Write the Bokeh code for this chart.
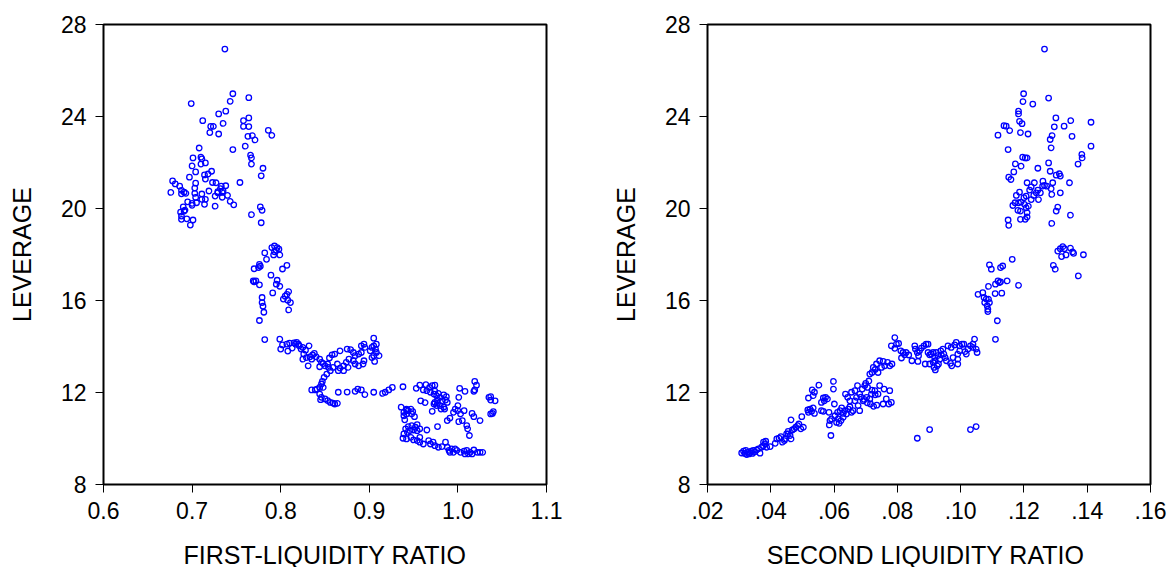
from bokeh.plotting import figure
from bokeh.layouts import row
from bokeh.models import Range1d, FixedTicker
from bokeh.embed import file_html
from bokeh.resources import INLINE

# ---------------- data: (liquidity ratio, leverage) ----------------
first_top = [
    (0.737, 26.93), (0.746, 24.99), (0.764, 24.82), (0.699, 24.56), (0.743, 24.66), (0.738, 24.23), (0.730, 24.11), (0.712, 23.82),
    (0.758, 23.82), (0.758, 23.57), (0.764, 23.94), (0.764, 23.56), (0.735, 23.70), (0.721, 23.57), (0.724, 23.57), (0.720, 23.30),
    (0.730, 23.24), (0.786, 23.40), (0.790, 23.18), (0.763, 23.14), (0.768, 23.17), (0.771, 22.98), (0.760, 22.71), (0.746, 22.56),
    (0.708, 22.63), (0.710, 22.23), (0.701, 22.20), (0.711, 22.16), (0.766, 22.32), (0.767, 22.20), (0.767, 21.93), (0.715, 21.98),
    (0.710, 21.93), (0.700, 21.85), (0.780, 21.75), (0.778, 21.42), (0.704, 21.59), (0.722, 21.62), (0.718, 21.50), (0.714, 21.46),
    (0.715, 21.28), (0.697, 21.36), (0.678, 21.20), (0.681, 21.07), (0.686, 20.97), (0.704, 21.10), (0.703, 20.89), (0.723, 21.13),
    (0.727, 21.12), (0.733, 20.97), (0.738, 20.99), (0.732, 20.86), (0.735, 20.76), (0.729, 20.73), (0.729, 20.68), (0.734, 20.70),
    (0.754, 21.13), (0.676, 20.70), (0.688, 20.79), (0.691, 20.71), (0.693, 20.66), (0.688, 20.64), (0.703, 20.66), (0.711, 20.63),
    (0.719, 20.76), (0.740, 20.57), (0.726, 20.54), (0.704, 20.48), (0.711, 20.40), (0.715, 20.40), (0.734, 20.49), (0.743, 20.31),
    (0.747, 20.16), (0.695, 20.29), (0.700, 20.22), (0.700, 20.14), (0.705, 20.25), (0.714, 20.18), (0.726, 20.10), (0.690, 20.07),
    (0.691, 19.89), (0.687, 19.84), (0.692, 19.93), (0.688, 19.67), (0.777, 20.07), (0.779, 19.92), (0.694, 19.55), (0.701, 19.50),
    (0.688, 19.53), (0.767, 19.73), (0.698, 19.28), (0.778, 19.38),
]
first_mid = [
    (0.793, 18.37), (0.790, 18.30), (0.796, 18.30), (0.795, 18.18), (0.798, 18.23), (0.792, 17.98), (0.793, 18.12), (0.799, 17.98),
    (0.782, 18.07), (0.784, 17.79), (0.776, 17.57), (0.777, 17.49), (0.770, 17.38), (0.775, 17.43), (0.807, 17.53), (0.802, 17.37),
    (0.789, 17.10), (0.769, 16.85), (0.770, 16.81), (0.772, 16.85), (0.776, 16.68), (0.796, 16.88), (0.795, 16.71), (0.799, 16.62),
    (0.791, 16.33), (0.809, 16.39), (0.807, 16.27), (0.805, 16.19), (0.803, 16.06), (0.808, 16.01), (0.811, 15.91), (0.779, 16.13),
    (0.779, 15.91), (0.780, 15.75), (0.809, 15.59), (0.781, 15.49), (0.776, 15.13), (0.782, 14.30),
]
first_band = [
    (0.799, 14.32), (0.802, 14.07), (0.807, 14.10), (0.810, 14.15), (0.815, 14.16), (0.818, 14.18), (0.820, 14.10), (0.800, 13.89),
    (0.808, 13.80), (0.813, 13.93), (0.817, 14.10), (0.821, 14.03), (0.823, 13.89), (0.825, 13.96), (0.828, 13.84), (0.832, 14.03),
    (0.826, 13.67), (0.829, 13.52), (0.833, 13.55), (0.836, 13.63), (0.838, 13.70), (0.840, 13.55), (0.831, 13.16), (0.825, 13.45),
    (0.835, 13.45), (0.844, 13.45), (0.846, 13.31), (0.844, 13.12), (0.848, 13.26), (0.850, 13.16), (0.853, 13.24), (0.855, 13.50),
    (0.858, 13.64), (0.861, 13.67), (0.867, 13.81), (0.854, 13.09), (0.856, 12.95), (0.859, 13.09), (0.864, 13.24), (0.867, 13.06),
    (0.871, 13.16), (0.875, 13.89), (0.879, 13.86), (0.882, 13.74), (0.884, 13.60), (0.888, 13.67), (0.891, 13.74), (0.894, 14.10),
    (0.895, 13.96), (0.891, 14.03), (0.882, 13.38), (0.877, 13.45), (0.884, 13.24), (0.888, 13.16), (0.893, 13.24), (0.894, 13.38),
    (0.903, 13.96), (0.905, 14.03), (0.907, 13.89), (0.908, 13.74), (0.905, 13.60), (0.911, 13.60), (0.905, 14.36), (0.908, 14.10),
    (0.906, 13.35), (0.903, 13.52), (0.901, 13.81), (0.874, 13.31), (0.876, 13.09), (0.871, 12.95), (0.865, 12.95),
]
first_path = [
    (0.852, 12.80), (0.849, 12.66), (0.847, 12.48), (0.846, 12.37), (0.844, 12.22), (0.848, 12.22), (0.841, 12.15), (0.835, 12.11),
    (0.839, 12.11), (0.844, 11.93), (0.846, 11.79), (0.850, 11.72), (0.853, 11.65), (0.856, 11.57), (0.859, 11.54), (0.861, 11.50),
    (0.864, 11.53), (0.845, 11.69), (0.865, 12.01), (0.875, 12.02), (0.884, 12.05), (0.887, 12.15), (0.891, 12.11), (0.895, 11.91),
    (0.905, 12.01), (0.915, 11.96), (0.918, 12.01), (0.922, 12.11), (0.926, 12.22), (0.938, 12.25), (0.936, 11.36), (0.942, 11.28),
]
first_right = [
    (0.953, 12.18), (0.957, 12.32), (0.961, 12.11), (0.964, 12.34), (0.965, 12.08), (0.968, 12.22), (0.971, 12.30), (0.974, 12.32),
    (0.969, 12.01), (0.974, 12.06), (0.973, 11.93), (0.976, 11.86), (0.978, 11.96), (0.980, 11.79), (0.984, 11.90), (0.987, 11.82),
    (0.986, 11.67), (0.982, 11.64), (0.977, 11.67), (0.974, 11.57), (0.973, 11.50), (0.976, 11.43), (0.980, 11.43), (0.984, 11.36),
    (0.988, 11.57), (0.981, 11.28), (1.002, 12.18), (1.008, 12.05), (1.019, 12.48), (1.021, 12.32), (1.019, 12.11), (1.018, 12.05),
    (1.001, 11.79), (1.000, 11.43), (0.971, 11.18), (0.977, 11.53), (0.985, 11.28), (1.035, 11.79), (1.037, 11.67), (1.042, 11.64),
    (1.037, 11.82), (1.039, 11.09), (1.040, 11.17), (1.037, 11.07), (0.939, 11.14), (0.939, 10.99), (0.942, 11.24), (0.944, 11.21),
    (0.947, 11.28), (0.949, 11.17), (0.948, 11.07), (0.942, 11.07), (0.951, 10.95), (0.940, 10.81), (0.958, 11.64), (0.963, 11.56),
    (0.988, 10.78), (0.991, 10.89), (0.995, 11.14), (0.997, 11.28), (1.000, 11.21), (1.003, 11.07), (1.005, 10.78), (1.001, 10.73),
    (1.007, 11.21), (1.010, 10.56), (1.013, 10.13), (1.011, 10.42), (1.016, 11.09), (1.018, 10.95), (1.025, 10.78), (0.977, 10.52),
    (0.965, 10.37),
]
first_low = [
    (0.941, 10.42), (0.944, 10.52), (0.948, 10.56), (0.952, 10.49), (0.954, 10.60), (0.957, 10.42), (0.954, 10.34), (0.950, 10.37),
    (0.946, 10.34), (0.943, 10.27), (0.939, 10.20), (0.938, 10.01), (0.942, 9.98), (0.947, 10.05), (0.950, 9.94), (0.954, 9.91),
    (0.957, 9.84), (0.961, 9.76), (0.957, 10.05), (0.967, 9.91), (0.969, 9.76), (0.972, 9.84), (0.974, 9.69), (0.978, 9.62),
    (0.982, 9.65), (0.986, 9.84), (0.988, 9.62), (0.990, 9.48), (0.993, 9.55), (0.995, 9.40), (0.999, 9.48), (1.003, 9.40),
    (1.007, 9.45), (1.010, 9.48), (1.014, 9.40), (1.018, 9.50), (1.022, 9.40), (1.025, 9.40), (1.028, 9.40), (0.997, 9.55),
    (0.991, 9.40), (1.008, 9.33), (1.012, 9.33), (1.016, 9.33),
]

second_low = [
    (0.0308, 9.37), (0.0314, 9.45), (0.0321, 9.48), (0.0327, 9.40), (0.0331, 9.33), (0.0338, 9.45), (0.0345, 9.48), (0.0324, 9.30),
    (0.0318, 9.35), (0.0335, 9.38), (0.0342, 9.35), (0.0350, 9.42), (0.0355, 9.50), (0.0361, 9.55), (0.0366, 9.36), (0.0371, 9.62),
    (0.0377, 9.69), (0.0382, 9.77), (0.0387, 9.62), (0.0398, 9.65), (0.0377, 9.84), (0.0384, 9.88), (0.0414, 9.79), (0.0419, 9.98),
    (0.0426, 10.02), (0.0432, 10.08), (0.0437, 9.84), (0.0445, 9.98), (0.0450, 10.20), (0.0455, 10.31), (0.0461, 10.13), (0.0464, 9.98),
    (0.0468, 10.37), (0.0474, 10.42), (0.0479, 10.49), (0.0485, 10.56), (0.0489, 10.63), (0.0495, 10.42), (0.0503, 10.49), (0.0464, 10.81),
    (0.0455, 10.20), (0.0443, 9.91),
]
second_mid = [
    (0.0498, 10.95), (0.0517, 11.24), (0.0519, 11.14), (0.0524, 11.28), (0.0529, 11.18), (0.0534, 11.33), (0.0538, 11.09), (0.0531, 12.11),
    (0.0538, 12.01), (0.0534, 11.86), (0.0519, 11.76), (0.0552, 12.32), (0.0560, 11.57), (0.0566, 11.76), (0.0569, 11.64), (0.0573, 11.79),
    (0.0579, 11.72), (0.0560, 11.21), (0.0566, 11.18), (0.0598, 12.48), (0.0598, 12.15), (0.0601, 11.50), (0.0584, 11.14), (0.0587, 10.78),
    (0.0592, 10.85), (0.0585, 10.59), (0.0590, 10.13), (0.0603, 10.99), (0.0611, 11.14), (0.0619, 11.21), (0.0624, 11.33), (0.0629, 11.09),
    (0.0634, 11.21), (0.0613, 10.85), (0.0622, 10.78), (0.0608, 10.70), (0.0616, 10.66), (0.0629, 10.92), (0.0639, 11.07), (0.0645, 11.28),
    (0.0655, 11.14), (0.0650, 11.38), (0.0660, 11.21), (0.0666, 11.64), (0.0676, 11.43), (0.0671, 11.79), (0.0636, 11.93), (0.0643, 11.79),
    (0.0650, 11.64), (0.0655, 12.01), (0.0666, 12.08), (0.0674, 12.30), (0.0681, 11.93), (0.0689, 12.15), (0.0697, 12.30), (0.0706, 12.22),
    (0.0692, 11.64), (0.0703, 11.79), (0.0713, 11.72), (0.0718, 11.93), (0.0729, 12.08), (0.0713, 12.80), (0.0724, 13.09), (0.0734, 13.24),
    (0.0720, 12.87), (0.0730, 13.00), (0.0710, 12.50), (0.0700, 12.40), (0.0715, 11.50), (0.0725, 11.40), (0.0735, 11.45), (0.0705, 11.55),
    (0.0695, 11.70), (0.0685, 11.80), (0.0720, 12.10), (0.0730, 11.90), (0.0681, 11.21), (0.0744, 13.38), (0.0755, 13.35), (0.0769, 13.31),
    (0.0776, 13.16), (0.0783, 13.24), (0.0750, 13.09), (0.0760, 13.16), (0.0739, 12.87), (0.0758, 12.15), (0.0776, 12.08), (0.0765, 11.72),
    (0.0781, 11.57), (0.0773, 11.50), (0.0755, 11.50), (0.0744, 12.30), (0.0739, 11.93),
]
second_band = [
    (0.0792, 14.39), (0.0781, 14.03), (0.0792, 13.92), (0.0797, 14.10), (0.0804, 14.13), (0.0811, 13.81), (0.0818, 13.74), (0.0823, 13.64),
    (0.0828, 13.74), (0.0813, 13.50), (0.0836, 13.63), (0.0846, 13.38), (0.0855, 14.03), (0.0857, 13.89), (0.0863, 13.74), (0.0867, 13.60),
    (0.0870, 13.81), (0.0876, 13.93), (0.0884, 14.03), (0.0891, 14.10), (0.0897, 14.10), (0.0865, 13.35), (0.0888, 13.24), (0.0902, 13.64),
    (0.0897, 13.74), (0.0907, 13.67), (0.0902, 13.24), (0.0913, 13.31), (0.0916, 13.09), (0.0920, 12.98), (0.0926, 13.16), (0.0934, 13.45),
    (0.0930, 13.24), (0.0937, 13.81), (0.0939, 13.64), (0.0944, 13.89), (0.0947, 13.67), (0.0951, 13.52), (0.0923, 13.74), (0.0928, 13.60),
    (0.0918, 13.52), (0.0955, 13.38), (0.0960, 14.03), (0.0970, 13.96), (0.0976, 13.52), (0.0972, 13.16), (0.0968, 13.27), (0.0981, 14.07),
    (0.0986, 14.18), (0.0991, 13.67), (0.0997, 13.81), (0.0991, 13.45), (0.0991, 13.24), (0.1004, 14.10), (0.1010, 14.10), (0.1014, 13.78),
    (0.1023, 13.89), (0.1031, 14.03), (0.1039, 14.10), (0.1044, 14.32), (0.1039, 13.96), (0.1049, 13.89), (0.1052, 13.74), (0.1018, 13.67),
    (0.0997, 14.03), (0.0913, 13.74), (0.0920, 13.38),
    (0.0863, 10.01), (0.0902, 10.39), (0.1031, 10.39), (0.1049, 10.52),
]
second_rise = [
    (0.1091, 17.55), (0.1097, 17.36), (0.1123, 16.78), (0.1110, 16.71), (0.1088, 16.61), (0.1055, 16.27), (0.1070, 16.34), (0.1074, 16.13),
    (0.1081, 16.06), (0.1088, 16.06), (0.1076, 15.91), (0.1091, 15.91), (0.1084, 15.77), (0.1086, 15.62), (0.1086, 15.52), (0.1109, 16.30),
    (0.1130, 16.32), (0.1116, 15.12), (0.1110, 14.31), (0.1163, 17.79), (0.1126, 17.43), (0.1133, 17.50), (0.1118, 16.85), (0.1126, 16.81),
    (0.1147, 16.85), (0.1183, 16.66),
    (0.1307, 18.15), (0.1315, 18.25), (0.1323, 18.34), (0.1328, 18.25), (0.1319, 17.91), (0.1333, 17.98), (0.1347, 18.28), (0.1354, 18.11),
    (0.1357, 18.05), (0.1388, 17.99), (0.1293, 17.53), (0.1299, 17.36), (0.1372, 17.07),
]
second_top = [
    (0.1265, 26.93), (0.1199, 24.99), (0.1197, 24.65), (0.1228, 24.54), (0.1278, 24.80), (0.1183, 24.23), (0.1183, 24.11), (0.1186, 23.79),
    (0.1194, 23.69), (0.1137, 23.60), (0.1144, 23.58), (0.1155, 23.39), (0.1118, 23.19), (0.1189, 23.30), (0.1213, 23.24), (0.1301, 23.94),
    (0.1296, 23.55), (0.1327, 23.58), (0.1348, 23.82), (0.1412, 23.75), (0.1352, 23.14), (0.1289, 23.17), (0.1283, 23.00), (0.1286, 22.64),
    (0.1150, 22.56), (0.1412, 22.71), (0.1383, 22.35), (0.1384, 22.20), (0.1371, 21.93), (0.1196, 22.23), (0.1204, 22.20), (0.1210, 22.20),
    (0.1173, 21.94), (0.1191, 21.84), (0.1168, 21.59), (0.1244, 21.75), (0.1278, 21.98), (0.1283, 21.62), (0.1152, 21.36), (0.1159, 21.26),
    (0.1302, 21.45), (0.1312, 21.51), (0.1315, 21.41), (0.1344, 21.12), (0.1210, 21.12), (0.1233, 21.12), (0.1223, 20.94), (0.1218, 20.80),
    (0.1260, 21.19), (0.1265, 21.00), (0.1272, 20.97), (0.1259, 20.97), (0.1286, 20.86), (0.1291, 21.12), (0.1244, 20.80), (0.1239, 20.68),
    (0.1252, 20.68), (0.1231, 20.57), (0.1246, 20.39), (0.1223, 20.39), (0.1207, 20.54), (0.1200, 20.47), (0.1191, 20.28), (0.1186, 20.71),
    (0.1176, 20.57), (0.1165, 20.13), (0.1172, 20.25), (0.1183, 20.25), (0.1202, 20.18), (0.1214, 20.10), (0.1207, 20.03), (0.1181, 19.92),
    (0.1189, 19.89), (0.1210, 19.82), (0.1210, 19.63), (0.1189, 19.53), (0.1204, 19.53), (0.1150, 19.50), (0.1152, 19.27), (0.1315, 20.68),
    (0.1288, 20.61), (0.1307, 20.06), (0.1302, 19.89), (0.1347, 19.71), (0.1288, 19.35),
]

y_ticks = [8, 12, 16, 20, 24, 28]
first_ticks = [0.6, 0.7, 0.8, 0.9, 1.0, 1.1]
first_tick_labels = ["0.6", "0.7", "0.8", "0.9", "1.0", "1.1"]
second_ticks = [0.02, 0.04, 0.06, 0.08, 0.10, 0.12, 0.14, 0.16]
second_tick_labels = [".02", ".04", ".06", ".08", ".10", ".12", ".14", ".16"]

FONT = "Liberation Sans"
BLUE = "#0000FF"


def unzip(*groups):
    xs, ys = [], []
    for g in groups:
        for a, b in g:
            xs.append(a)
            ys.append(b)
    return xs, ys


def make_fig(xs, ys, x_lo, x_hi, ticks, labels, xtitle, fw, left_border, right_border):
    p = figure(frame_width=fw, frame_height=460,
               x_range=Range1d(x_lo, x_hi), y_range=Range1d(8, 28),
               output_backend="svg", toolbar_location=None,
               min_border_left=left_border, min_border_right=right_border,
               min_border_top=24, min_border_bottom=82,
               background_fill_color="white", border_fill_color="white")
    p.outline_line_color = "black"
    p.outline_line_width = 2
    p.grid.visible = False

    p.xaxis.ticker = FixedTicker(ticks=ticks)
    p.xaxis.major_label_overrides = {t: l for t, l in zip(ticks, labels)}
    p.yaxis.ticker = FixedTicker(ticks=y_ticks)

    for ax in (p.xaxis[0], p.yaxis[0]):
        ax.axis_line_color = None
        ax.major_tick_in = 0
        ax.major_tick_out = 8
        ax.major_tick_line_color = "black"
        ax.major_tick_line_width = 1
        ax.minor_tick_line_color = None
        ax.major_label_text_font = FONT
        ax.major_label_text_font_size = "23px"
        ax.major_label_text_color = "black"
        ax.axis_label_text_font = FONT
        ax.axis_label_text_font_size = "25px"
        ax.axis_label_text_font_style = "normal"
        ax.axis_label_text_color = "black"

    p.xaxis.major_label_standoff = 9
    p.xaxis.axis_label_standoff = 19
    p.xaxis.axis_label = xtitle
    p.yaxis.major_label_standoff = 9
    p.yaxis.axis_label_standoff = 22
    p.yaxis.axis_label = "LEVERAGE"

    p.scatter(xs, ys, marker="circle", size=5.5, fill_color=None,
              line_color=BLUE, line_width=1.3)
    return p


x1, y1 = unzip(first_top, first_mid, first_band, first_path, first_right, first_low)
x2, y2 = unzip(second_low, second_mid, second_band, second_rise, second_top)

p1 = make_fig(x1, y1, 0.6, 1.1, first_ticks, first_tick_labels,
              "FIRST-LIQUIDITY RATIO", 443, 103, 61)
p2 = make_fig(x2, y2, 0.02, 0.16, second_ticks, second_tick_labels,
              "SECOND  LIQUIDITY RATIO", 443, 100, 20)

layout = row(p1, p2)
open("out.html", "w").write(file_html(layout, INLINE))
